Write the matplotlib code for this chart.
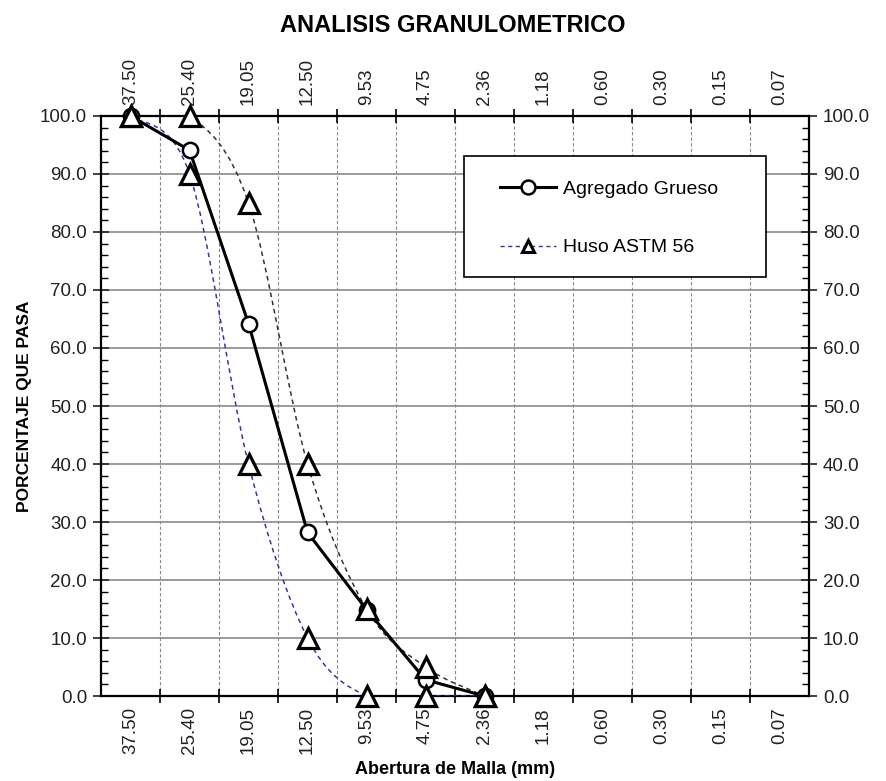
import numpy as np
import matplotlib.pyplot as plt
from matplotlib.path import Path
from matplotlib.patches import PathPatch, Rectangle
from matplotlib.lines import Line2D
from matplotlib.ticker import MultipleLocator, FixedLocator

plt.rcParams['font.family'] = ['Liberation Sans', 'DejaVu Sans']

# tamices (mm) y datos
mallas = ["37.50", "25.40", "19.05", "12.50", "9.53", "4.75", "2.36",
          "1.18", "0.60", "0.30", "0.15", "0.07"]
agregado = [100.0, 94.1, 64.2, 28.2, 14.9, 2.8, 0.0]
huso_sup = [100.0, 100.0, 85.0, 40.0, 15.0, 5.0, 0.0]
huso_inf = [100.0, 90.0, 40.0, 10.0, 0.0, 0.0, 0.0]


def curva_suave(xs, ys):
    # curva tipo Excel "suavizada": bezier cubica con tangentes Catmull-Rom
    pts = np.column_stack([xs, ys]).astype(float)
    verts = [pts[0]]
    codes = [Path.MOVETO]
    n = len(pts)
    for i in range(n - 1):
        p0 = pts[i - 1] if i > 0 else pts[i]
        p1, p2 = pts[i], pts[i + 1]
        p3 = pts[i + 2] if i + 2 < n else pts[i + 1]
        c1 = p1 + (p2 - p0) / 6.0
        c2 = p2 - (p3 - p1) / 6.0
        verts += [c1, c2, p2]
        codes += [Path.CURVE4] * 3
    return Path(verts, codes)


fig = plt.figure(figsize=(8.87, 7.81), dpi=100)
ax = fig.add_axes([0.1139, 0.1088, 0.7982, 0.7427])

x = np.arange(len(agregado))

# huso (curvas suavizadas)
ax.add_patch(PathPatch(curva_suave(x, huso_inf), fill=False, edgecolor='#3535b0',
                       lw=1.1, ls=(0, (3, 2.5)), zorder=3))
ax.add_patch(PathPatch(curva_suave(x, huso_sup), fill=False, edgecolor='#333333',
                       lw=1.1, ls=(0, (3, 2.5)), zorder=3))
ax.plot(x, huso_inf, ls='none', marker='^', ms=15, mfc='white', mec='black', mew=2.3,
        zorder=5, clip_on=False)
ax.plot(x, huso_sup, ls='none', marker='^', ms=15, mfc='white', mec='black', mew=2.3,
        zorder=5, clip_on=False)

# agregado grueso
ax.plot(x, agregado, color='black', lw=2.2, marker='o', ms=11, mfc='white',
        mec='black', mew=1.8, zorder=4, clip_on=False)

ax.set_xlim(-0.5, len(mallas) - 0.5)
ax.set_ylim(0, 100)

# ejes x (categorias) abajo y arriba
ax.xaxis.set_major_locator(FixedLocator(np.arange(len(mallas))))
ax.xaxis.set_minor_locator(FixedLocator(np.arange(0.5, len(mallas) - 0.5, 1)))
ax.set_xticklabels(mallas, rotation=90)
ax.tick_params(axis='x', which='major', length=0, labelsize=13.5, pad=8,
               top=True, labeltop=True, colors='#222222')
ax.tick_params(axis='x', which='minor', length=10, width=1.2, direction='inout',
               top=True, bottom=True)

# ejes y izquierda y derecha
ax.yaxis.set_major_locator(MultipleLocator(10))
ax.yaxis.set_minor_locator(MultipleLocator(2))
ax.yaxis.set_major_formatter(lambda v, p: f"{v:.1f}")
ax.tick_params(axis='y', which='major', length=12, width=1.2, direction='inout',
               right=True, labelright=True, labelsize=13.5, pad=4, colors='#222222')
ax.tick_params(axis='y', which='minor', length=5, width=1.0, direction='in', right=True)
for t in ax.get_xticklines(minor=True) + ax.get_yticklines() + ax.get_yticklines(minor=True):
    t.set_color('black')

ax.grid(True, axis='y', which='major', color='#8a8a8a', lw=1.2, ls='-')
ax.grid(True, axis='x', which='minor', color='#8a8a8a', lw=0.8, ls=(0, (3, 2)))
ax.set_axisbelow(True)
for s in ax.spines.values():
    s.set_linewidth(1.6)

ax.set_xlabel("Abertura de Malla (mm)", fontsize=13, fontweight='bold', labelpad=5)
ax.set_ylabel("PORCENTAJE QUE PASA", fontsize=12.5, fontweight='bold', labelpad=6)
fig.text(0.51, 0.982, "ANALISIS GRANULOMETRICO", ha='center', va='top',
         fontsize=17, fontweight='bold')

# leyenda: marco dibujado aparte para tener el mismo tamaño que el original
ax.add_patch(Rectangle((0.5127, 0.7224), 0.4266, 0.2086, transform=ax.transAxes,
                       facecolor='white', edgecolor='black', lw=1.2, zorder=6))
h1 = Line2D([], [], color='black', lw=2.2, marker='o', ms=10, mfc='white', mec='black', mew=1.8)
h2 = Line2D([], [], color='#3535b0', lw=1.0, ls=(0, (3, 2.5)), marker='^', ms=8,
            mfc='white', mec='black', mew=2.2)
leg = ax.legend([h1, h2], ["Agregado Grueso", "Huso ASTM 56"], loc='upper left',
                bbox_to_anchor=(0.5636, 0.889), fontsize=14, frameon=False,
                borderpad=0, labelspacing=2.1, handlelength=2.9,
                handletextpad=0.35, borderaxespad=0)
leg.set_zorder(7)

fig.savefig("out.png", dpi=100)
